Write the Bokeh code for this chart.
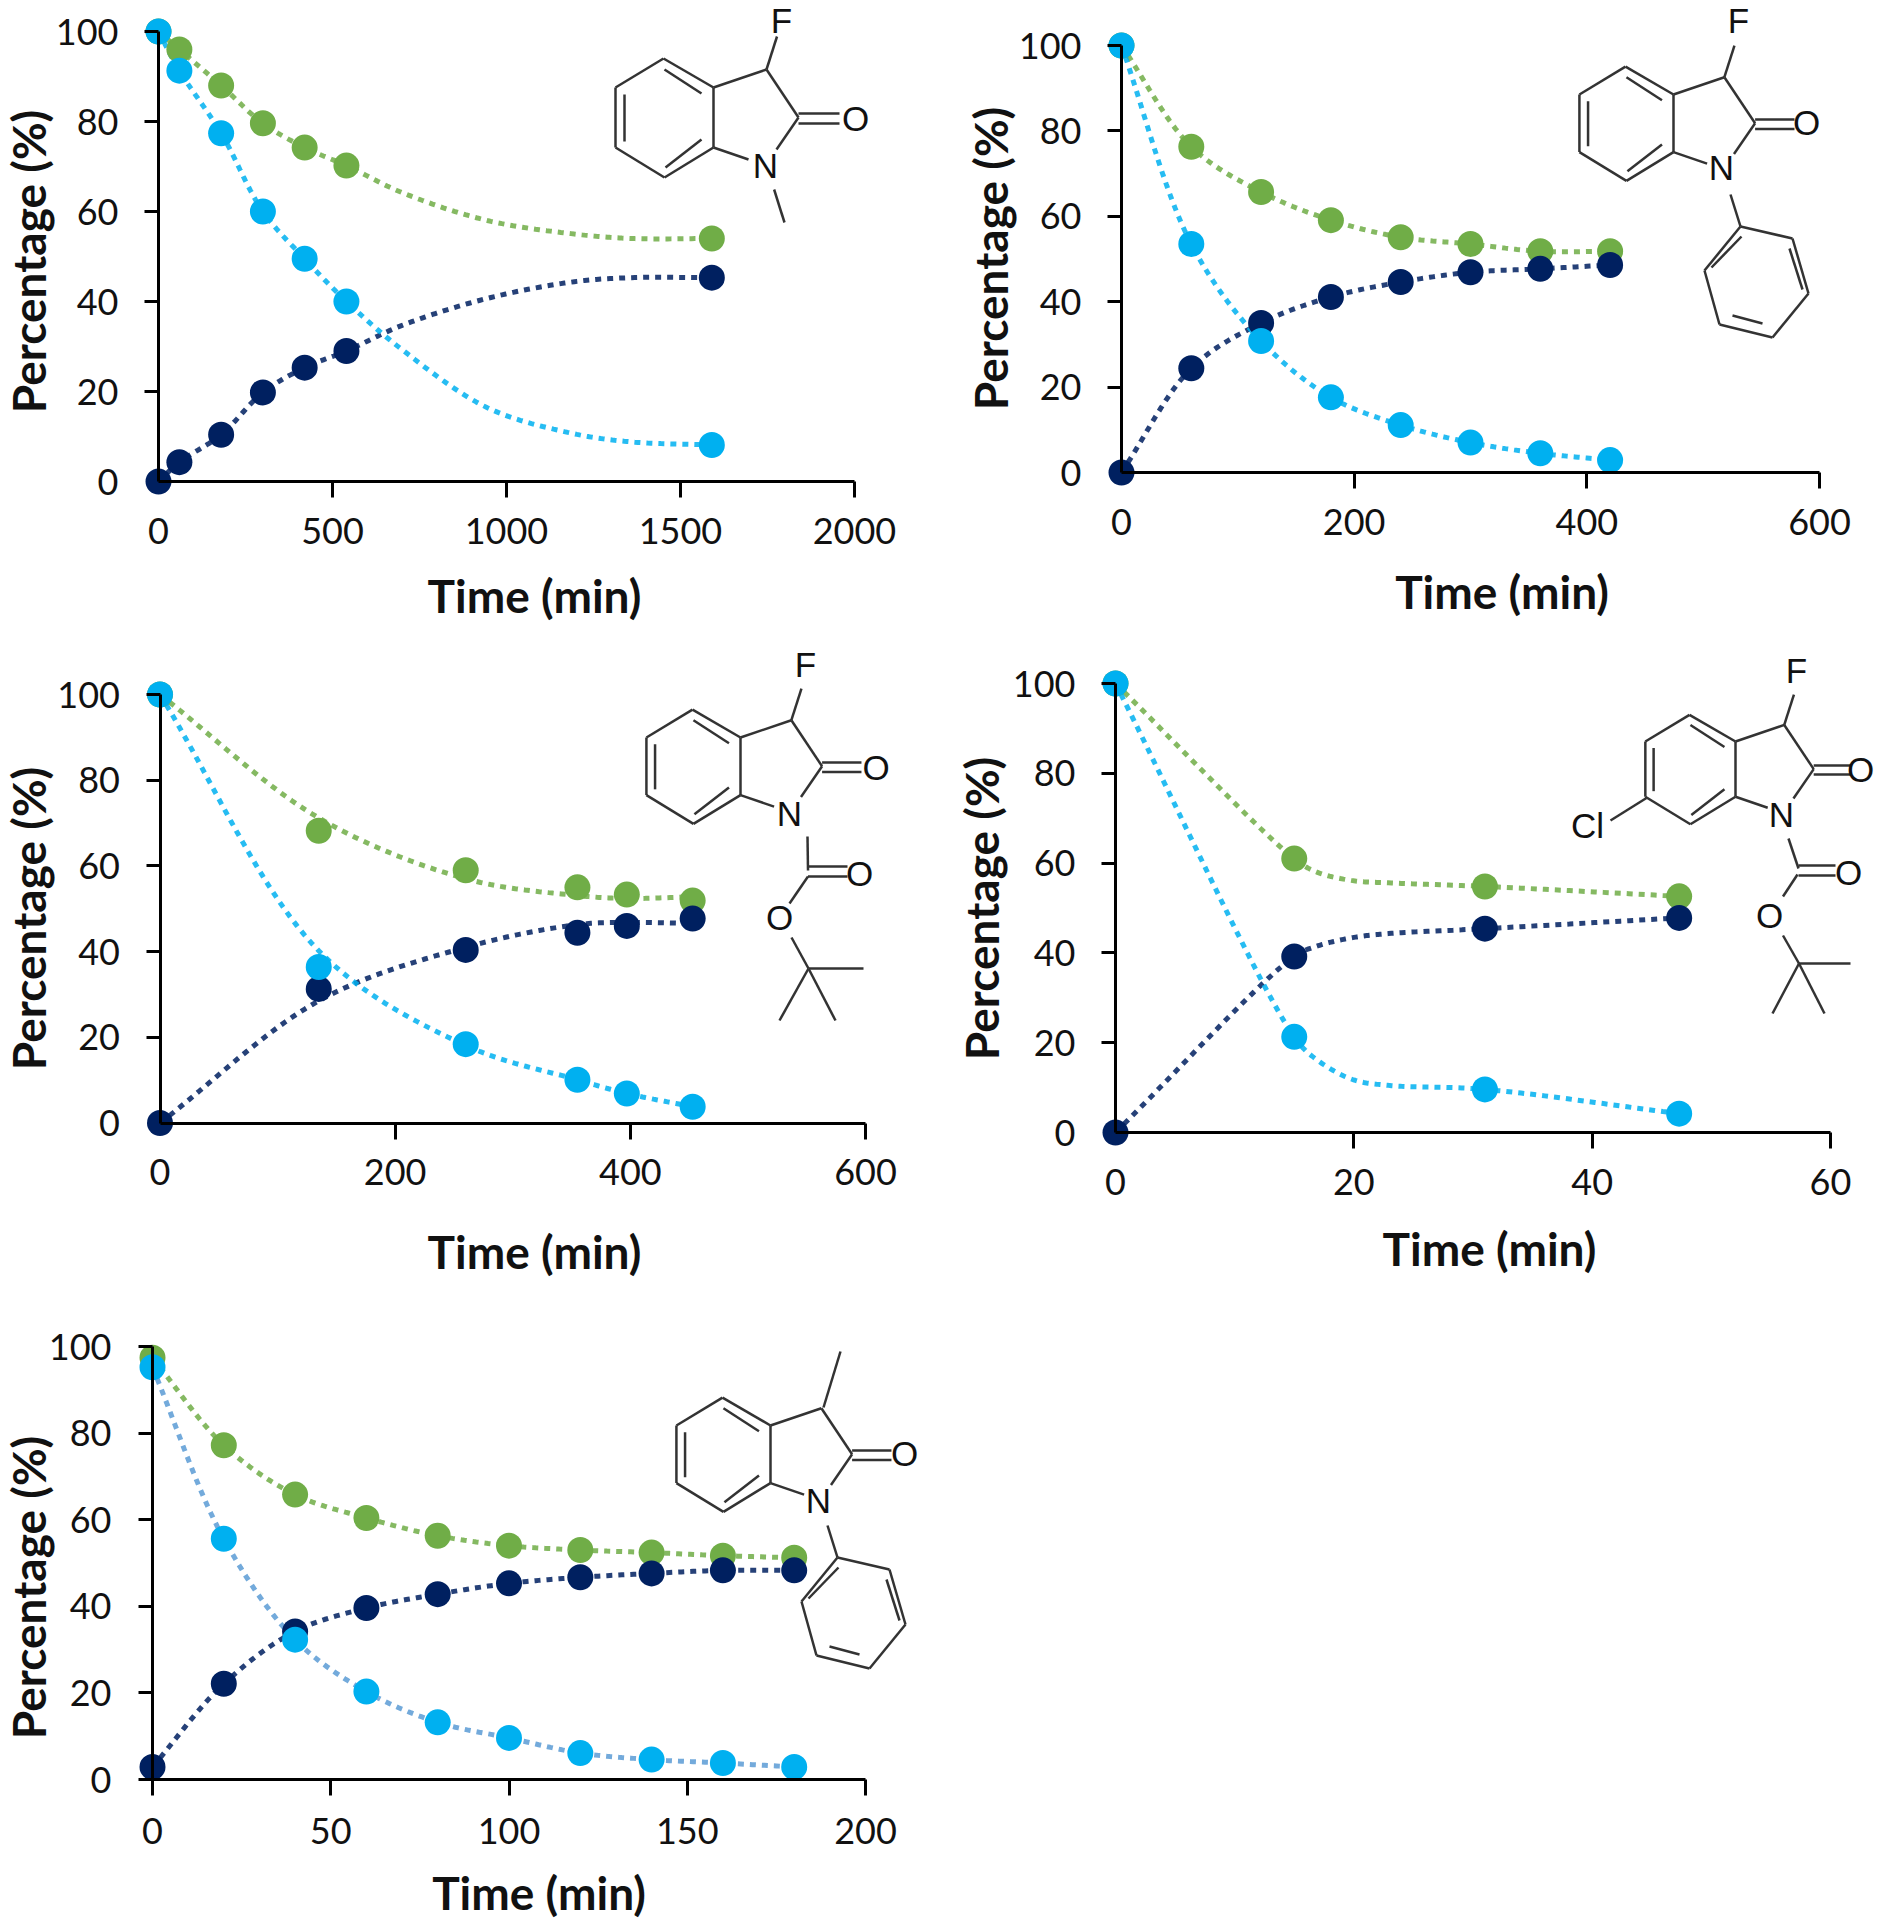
from bokeh.plotting import figure
from bokeh.layouts import column, row
from bokeh.models import LinearAxis, FixedTicker, Range1d
from bokeh.core.properties import value
from bokeh.embed import file_html
from bokeh.resources import INLINE
import math

# ---- measured data -------------------------------------------------------
time_1 = [0, 60, 180, 300, 420, 540, 1590]
green_1 = [100, 96, 88, 79.6, 74.2, 70.2, 54]
navy_1 = [0, 4.3, 10.4, 19.8, 25.3, 29, 45.3]
cyan_1 = [100, 91.3, 77.4, 60, 49.5, 40, 8.1]
line_time_1 = [0, 60, 180, 300, 420, 540, 700, 945, 1195, 1360, 1590]
line_green_1 = [100, 96, 88, 79.6, 74.2, 70.2, 64.2, 58, 55, 54, 54]
line_navy_1 = [0, 4.3, 10.4, 19.8, 25.3, 29, 34.7, 40.7, 44.4, 45.3, 45.3]
line_cyan_1 = [100, 91.3, 77.4, 60, 49.5, 40, 29.3, 16.4, 10.6, 8.8, 8.1]

time_2 = [0, 60, 120, 180, 240, 300, 360, 420]
green_2 = [100, 76.3, 65.7, 59.1, 55.1, 53.5, 51.8, 51.8]
navy_2 = [0, 24.4, 35, 41.1, 44.6, 46.9, 47.7, 48.6]
cyan_2 = [100, 53.5, 30.8, 17.6, 11.1, 7, 4.5, 2.9]

time_3 = [0, 135, 260, 355, 397, 453]
green_3 = [100, 68.2, 59, 55, 53.3, 51.9]
navy_3 = [0, 31.3, 40.4, 44.4, 46, 47.7]
cyan_3 = [100, 36.4, 18.4, 10.1, 6.9, 3.8]
line_green_3 = [100, 71.2, 57, 53.1, 52.4, 52.8]
line_navy_3 = [0, 28.5, 41, 46.3, 46.8, 46.6]
line_cyan_3 = [100, 40.2, 18.1, 10.1, 6.9, 3.8]

time_4 = [0, 15, 31, 47.3]
green_4 = [100, 61, 54.8, 52.6]
navy_4 = [0, 39.2, 45.4, 47.8]
cyan_4 = [100, 21.3, 9.6, 4.2]
line_time_4 = [0, 15, 16.9, 19.9, 22.9, 31, 47.3]
line_green_4 = [100, 61, 58, 56.1, 55.6, 54.8, 52.6]
line_navy_4 = [0, 39.2, 41.5, 43.4, 44.3, 45.4, 47.8]
line_cyan_4 = [100, 21.3, 16.2, 11.8, 10.5, 9.6, 4.2]

time_5 = [0, 20, 40, 60, 80, 100, 120, 140, 160, 180]
green_5 = [97.4, 77.2, 65.8, 60.4, 56.3, 54, 53, 52.4, 51.7, 51.2]
navy_5 = [2.9, 22.1, 34.2, 39.6, 42.8, 45.3, 46.7, 47.6, 48.3, 48.3]
cyan_5 = [95.2, 55.6, 32.3, 20.3, 13.2, 9.6, 6.1, 4.6, 3.8, 2.9]

y_ticks = [0, 20, 40, 60, 80, 100]
x_ticks_1 = [0, 500, 1000, 1500, 2000]
x_ticks_2 = [0, 200, 400, 600]
x_ticks_3 = [0, 200, 400, 600]
x_ticks_4 = [0, 20, 40, 60]
x_ticks_5 = [0, 50, 100, 150, 200]

x_title = "Time (min)"
y_title = "Percentage (%)"

# ---- style ----------------------------------------------------------------
GREEN, NAVY, CYAN = "#70AD47", "#002060", "#00B0F0"
TICK_FONT, TITLE_FONT, ATOM_FONT = "Lato", "Lato", "Liberation Sans"
INK = "#111111"
BOND = "#333333"

# bonds of the oxindole core, relative to the ring-fusion carbon C3a
CORE_BONDS = [
    (-50, -29, 0, 0), (0, 0, 0, 60), (0, 60, -49, 90), (-49, 90, -98, 60), (-98, 60, -98, 0), (-98, 0, -50, -29),
    (-49, -18, -12, 6), (-89, 7, -89, 54), (-48, 80, -12, 52),
    (0, 0, 53, -18), (53, -18, 85, 30), (85, 26, 126, 26), (85, 36, 126, 36),
    (85, 30, 63, 62), (0, 60, 35, 72),
]
F_BOND = [(53, -18, 63.5, -51)]
ME_BOND = [(53, -18, 70, -74)]
METHYL_N = [(60.6, 102, 71, 135)]
PHENYL = [
    (57, 100, 67, 132), (67, 132, 119, 144), (119, 144, 135, 199), (135, 199, 99, 243), (99, 243, 46, 230),
    (46, 230, 31, 176), (31, 176, 67, 132), (68, 142, 38, 173), (116, 154, 129, 195), (59, 221, 89, 229),
]
BOC_3 = [
    (67, 99, 67.5, 133), (67.5, 129, 107, 129), (67.5, 139, 107, 139), (67.5, 139, 49, 166),
    (51, 200, 68, 231), (68, 231, 123, 231), (68, 231, 39, 283), (68, 231, 95, 283),
]
BOC_4 = [
    (53, 97, 63, 127), (63, 124, 100, 124), (63, 134, 100, 134), (62, 133, 47.5, 155),
    (47.5, 194, 63.5, 222), (63.5, 222, 115, 222), (63.5, 222, 37, 272), (63.5, 222, 89, 272),
    (-89, 56.5, -125, 79),
]


def smooth(xs, ys, sx, sy):
    """Draw the chart's smoothed line through the read knots (centripetal Catmull-Rom in screen space)."""
    pts = [(a * sx, b * sy) for a, b in zip(xs, ys)]
    pts = [(2 * pts[0][0] - pts[1][0], 2 * pts[0][1] - pts[1][1])] + pts + [(2 * pts[-1][0] - pts[-2][0], 2 * pts[-1][1] - pts[-2][1])]
    ox, oy = [], []

    def lerp(a, b, ta, tb, t):
        w = (t - ta) / (tb - ta)
        return (a[0] + (b[0] - a[0]) * w, a[1] + (b[1] - a[1]) * w)

    for i in range(1, len(pts) - 2):
        p0, p1, p2, p3 = pts[i - 1], pts[i], pts[i + 1], pts[i + 2]
        t0 = 0.0
        t1 = t0 + max(math.dist(p0, p1), 1e-6) ** 0.5
        t2 = t1 + max(math.dist(p1, p2), 1e-6) ** 0.5
        t3 = t2 + max(math.dist(p2, p3), 1e-6) ** 0.5
        for k in range(24):
            t = t1 + (t2 - t1) * k / 24
            a1, a2, a3 = lerp(p0, p1, t0, t1, t), lerp(p1, p2, t1, t2, t), lerp(p2, p3, t2, t3, t)
            b1, b2 = lerp(a1, a2, t0, t2, t), lerp(a2, a3, t1, t3, t)
            c = lerp(b1, b2, t1, t2, t)
            ox.append(c[0] / sx)
            oy.append(c[1] / sy)
    ox.append(xs[-1])
    oy.append(ys[-1])
    return ox, oy


def panel(cell, ax, xmax, xticks, t, lt, g, n, c, lg, ln, lc, titles, tick_stand,
          struct, extra_bonds, atoms, cyan_line=CYAN, zero_tick=False):
    left, right, top, bottom = cell
    ax_x0, ax_xm, ax_y0, ax_y100 = ax
    sx = (ax_xm - ax_x0) / xmax
    sy = (ax_y0 - ax_y100) / 100
    fx = lambda px: (px - ax_x0) / sx
    fy = lambda py: (ax_y0 - py) / sy
    p = figure(width=right - left, height=bottom - top, toolbar_location=None, output_backend="svg",
               x_range=Range1d(fx(left), fx(right)), y_range=Range1d(fy(bottom), fy(top)),
               x_axis_location=None, y_axis_location=None, min_border=0, outline_line_color=None,
               background_fill_color="white", border_fill_color="white")
    p.grid.visible = False

    def styled(ticks, bounds, stand, line=True, tick_out=0):
        a = LinearAxis(ticker=FixedTicker(ticks=ticks), fixed_location=0, bounds=bounds)
        a.axis_line_color = "black" if line else None
        a.axis_line_width = 3
        a.major_tick_line_color = "black" if tick_out else None
        a.major_tick_line_width = 3
        a.major_tick_in = 0
        a.major_tick_out = tick_out
        a.minor_tick_line_color = None
        a.major_label_text_font = TICK_FONT
        a.major_label_text_font_size = "36px"
        a.major_label_text_color = INK
        a.major_label_standoff = stand
        return a

    xt = [v for v in xticks if v != 0 or zero_tick]
    yt = [v for v in y_ticks if v != 0 or zero_tick]
    p.add_layout(styled(xt, (0, xmax), tick_stand[0], True, 16), "below")
    p.add_layout(styled(yt, (0, 100), tick_stand[1], True, 14), "left")
    if not zero_tick:
        p.add_layout(styled([0], (0, xmax), tick_stand[0] + 16, False, 0), "below")
        p.add_layout(styled([0], (0, 100), tick_stand[1] + 14, False, 0), "left")

    for yy, col in ((lg, GREEN), (ln, NAVY), (lc, cyan_line)):
        lx, ly = smooth(lt, yy, sx, sy)
        p.line(lx, ly, line_color=col, line_width=5, line_alpha=0.85, line_dash="6 6")
    for yy, col in ((g, GREEN), (n, NAVY), (c, CYAN)):
        p.scatter(t, yy, size=26, marker="circle", fill_color=col, line_color=None)

    # axis titles
    (tx, ty), (px_, py_) = titles
    p.text([fx(tx)], [fy(ty)], text=[x_title], text_font=value(TITLE_FONT), text_font_size=value("46px"),
           text_font_style="bold", text_align="center", text_baseline="middle", text_color=INK)
    p.text([fx(px_)], [fy(py_)], text=[y_title], text_font=value(TITLE_FONT), text_font_size=value("46px"),
           text_font_style="bold", text_align="center", text_baseline="middle", text_color=INK,
           angle=math.pi / 2)

    # structure
    ox, oy, scale = struct
    segs = [tuple(v * scale for v in b) for b in CORE_BONDS] + list(extra_bonds)
    p.segment([fx(ox + s[0]) for s in segs], [fy(oy + s[1]) for s in segs],
              [fx(ox + s[2]) for s in segs], [fy(oy + s[3]) for s in segs],
              line_color=BOND, line_width=2.5)
    p.text([fx(ox + a[1]) for a in atoms], [fy(oy + a[2]) for a in atoms], text=[a[0] for a in atoms],
           text_font=value(ATOM_FONT), text_font_size=value("35px"), text_align="center",
           text_baseline="middle", text_color=INK)
    return p


p1 = panel((0, 940, 0, 630), (158, 854, 481, 31), 2000, x_ticks_1, time_1, line_time_1, green_1, navy_1, cyan_1,
           line_green_1, line_navy_1, line_cyan_1, ((534, 595), (28, 261)), (20, 26),
           (713, 87, 1.0), F_BOND + METHYL_N, [("F", 68, -67), ("N", 52, 78), ("O", 142, 31)])
p2 = panel((940, 1877, 0, 630), (1121, 1819, 472, 45), 600, x_ticks_2, time_2, time_2, green_2, navy_2, cyan_2,
           green_2, navy_2, cyan_2, ((1501.6, 591), (990, 258)), (20, 26),
           (1673, 94, 0.96), [tuple(v * 0.96 for v in b) for b in F_BOND] + PHENYL,
           [("F", 65, -74), ("N", 48, 73), ("O", 133, 28)])
p3 = panel((0, 940, 630, 1285), (159.5, 865, 1122.5, 694), 600, x_ticks_3, time_3, time_3, green_3, navy_3, cyan_3,
           line_green_3, line_navy_3, line_cyan_3, ((534, 1251), (28, 918)), (20, 26),
           (740, 737, 0.96), [tuple(v * 0.96 for v in b) for b in F_BOND] + BOC_3,
           [("F", 65, -73), ("N", 49, 76), ("O", 135.6, 29.5), ("O", 119, 136), ("O", 39, 180)])
p4 = panel((940, 1877, 630, 1285), (1115, 1830, 1132, 683), 60, x_ticks_4, time_4, line_time_4, green_4, navy_4, cyan_4,
           line_green_4, line_navy_4, line_cyan_4, ((1489, 1248), (981, 908)), (20, 26),
           (1735, 741, 0.92), [tuple(v * 0.92 for v in b) for b in F_BOND] + BOC_4,
           [("F", 61, -71), ("N", 46, 73), ("O", 125, 28), ("O", 113, 131), ("O", 34, 174), ("Cl", -148, 84)])
p5 = panel((0, 940, 1285, 1920), (152, 865, 1779, 1346), 200, x_ticks_5, time_5, time_5, green_5, navy_5, cyan_5,
           green_5, navy_5, cyan_5, ((538.6, 1892), (28, 1587)), (22, 27),
           (770, 1425, 0.96), ME_BOND + PHENYL, [("N", 48, 75), ("O", 134, 28)],
           cyan_line="#5B9BD5", zero_tick=True)

layout = column(row(p1, p2), row(p3, p4), p5)
open("out.html", "w").write(file_html(layout, INLINE))
